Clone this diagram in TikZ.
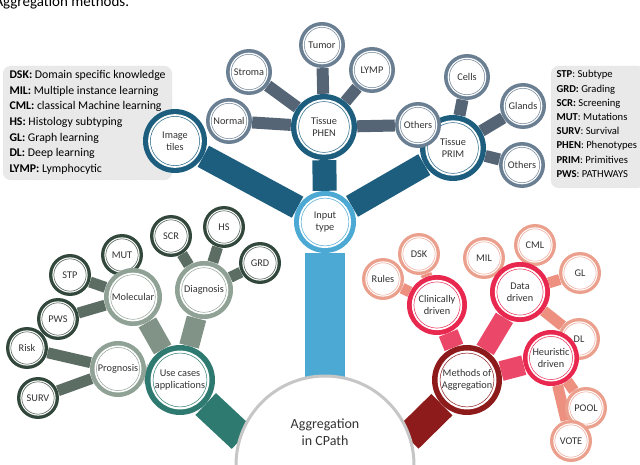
\documentclass[tikz,border=0pt]{standalone}
\usepackage{fontspec}
\setmainfont{Carlito}
\usetikzlibrary{backgrounds}
\definecolor{bDark}{HTML}{1D5E7E}
\definecolor{bLight}{HTML}{4BA9D3}
\definecolor{bGray}{HTML}{6B7F93}
\definecolor{gTeal}{HTML}{2E7A70}
\definecolor{gMid}{HTML}{8FA295}
\definecolor{gDark}{HTML}{33483C}
\definecolor{rDark}{HTML}{8E1B1B}
\definecolor{rMid}{HTML}{E8284F}
\definecolor{rLight}{HTML}{EBA08E}
\definecolor{legbg}{HTML}{E9E9E9}
\newcommand\bub[6]{%
  \fill[#5] (#2,#3) circle (#4);
  \fill[white] (#2,#3) circle ({0.84*#4});
  \draw[#5, line width=0.5pt] (#2,#3) circle ({0.77*#4});
  \node[lbl, minimum size={2*#4 pt}] (#1) at (#2,#3) {#6};}
\begin{document}
\begin{tikzpicture}[x=1pt,y=-1pt,
  lbl/.style={circle, inner sep=0pt, align=center, font=\fontsize{10.3}{12}\selectfont, text=black!80},
  conn/.style={line width=#1},
  leg/.style={fill=legbg, rounded corners=8pt, draw=gray!30, densely dotted},
  legtext/.style={align=left, anchor=north west, font=\fontsize{11.8}{15.6}\selectfont}]
\useasboundingbox (0,0) rectangle (640,465);
\node[anchor=west, font=\fontsize{15}{16}\selectfont] (title) at (-9,3) {Aggregation methods.};
% legends
\draw[leg] (3,66) rectangle (172,180);
\node[legtext] (legL) at (6,67) {\textbf{DSK:} Domain specific knowledge\\\textbf{MIL:} Multiple instance learning\\\textbf{CML:} classical Machine learning\\\textbf{HS:} Histology subtyping\\\textbf{GL:} Graph learning\\\textbf{DL:} Deep learning\\\textbf{LYMP:} Lymphocytic};
\draw[leg] (551,66) rectangle (645,188);
\node[legtext, font=\fontsize{10.6}{14.2}\selectfont] (legR) at (553,67) {\textbf{STP}: Subtype\\\textbf{GRD:} Grading\\\textbf{SCR:} Screening\\\textbf{MUT}: Mutations\\\textbf{SURV}: Survival\\\textbf{PHEN}: Phenotypes\\\textbf{PRIM}: Primitives\\\textbf{PWS}: PATHWAYS};
% centre
\fill[white] (236,465) arc (180:360:89) -- cycle;
\draw[gray!45, line width=3pt] (236,465) arc (180:360:89);
\node[font=\fontsize{14}{17}\selectfont, align=center, text=black!80] (agg) at (325,432) {Aggregation\\in CPath};
\coordinate (aggTop) at (325,378);
\coordinate (aggL) at (242,438);
\coordinate (aggR) at (408,438);
% bubbles
\bub{tumor}{322}{45}{23}{bGray}{Tumor}
\bub{stroma}{249}{72}{23}{bGray}{Stroma}
\bub{lymp}{372}{70}{23}{bGray}{LYMP}
\bub{normal}{229}{121}{23}{bGray}{Normal}
\bub{phen}{324}{127}{33}{bDark}{Tissue\\PHEN}
\bub{tiles}{175}{141}{32}{bDark}{Image\\tiles}
\bub{cells}{467}{77}{23}{bGray}{Cells}
\bub{glands}{523}{106}{23}{bGray}{Glands}
\bub{othR}{522}{165}{23}{bGray}{Others}
\bub{prim}{453}{148}{33}{bDark}{Tissue\\PRIM}
\bub{othP}{418}{125}{23}{bGray}{Others}
\bub{input}{325}{222}{31}{bLight}{Input\\type}
\bub{risk}{27}{348}{21}{gDark}{Risk}
\bub{surv}{38}{398}{21}{gDark}{SURV}
\bub{progn}{118}{369}{28}{gMid}{Prognosis}
\bub{stp}{70}{275}{21}{gDark}{STP}
\bub{pws}{58}{319}{21}{gDark}{PWS}
\bub{mut}{122}{255}{21}{gDark}{MUT}
\bub{molec}{133}{297}{29}{gMid}{Molecular}
\bub{scr}{171}{236}{21}{gDark}{SCR}
\bub{hs}{224}{227}{21}{gDark}{HS}
\bub{grd}{260}{263}{21}{gDark}{GRD}
\bub{diag}{204}{290}{29}{gMid}{Diagnosis}
\bub{usec}{180}{380}{35}{gTeal}{Use cases\\applications}
\bub{rules}{383}{279}{21}{rLight}{Rules}
\bub{dsk}{419}{254}{21}{rLight}{DSK}
\bub{clin}{437}{305}{30}{rMid}{Clinically\\driven}
\bub{mil}{484}{258}{21}{rLight}{MIL}
\bub{cml}{535}{245}{21}{rLight}{CML}
\bub{gl}{580}{273}{21}{rLight}{GL}
\bub{dl}{579}{339}{21}{rLight}{DL}
\bub{data}{520}{292}{30}{rMid}{Data\\driven}
\bub{pool}{586}{408}{21}{rLight}{POOL}
\bub{vote}{571}{441}{21}{rLight}{VOTE}
\bub{heur}{551}{358}{28}{rMid}{Heuristic\\driven}
\bub{meth}{467}{380}{35}{rDark}{Methods of\\Aggregation}
\begin{pgfonlayer}{background}
\foreach \a/\b in {tumor/phen,stroma/phen,lymp/phen,normal/phen,othP/phen,cells/prim,glands/prim,othR/prim}
  \draw[bGray!80!black, conn=12pt] (\a) -- (\b);
\foreach \a in {tiles,phen,prim} \draw[bDark, conn=24pt] (\a) -- (input);
\draw[bLight, conn=40pt] (input) -- (aggTop);
\foreach \a/\b in {risk/progn,surv/progn,stp/molec,pws/molec,mut/molec,scr/diag,hs/diag,grd/diag}
  \draw[gDark!80, conn=11pt] (\a) -- (\b);
\foreach \a in {progn,molec,diag} \draw[gMid!90!black, conn=20pt] (\a) -- (usec);
\draw[gTeal, conn=30pt] (usec) -- (aggL);
\foreach \a/\b in {rules/clin,dsk/clin,mil/data,cml/data,gl/data,dl/data,pool/heur,vote/heur}
  \draw[rLight!90!red, conn=11pt] (\a) -- (\b);
\foreach \a in {clin,data,heur} \draw[rMid!85, conn=20pt] (\a) -- (meth);
\draw[rDark, conn=30pt] (meth) -- (aggR);
\end{pgfonlayer}
\end{tikzpicture}
\end{document}
